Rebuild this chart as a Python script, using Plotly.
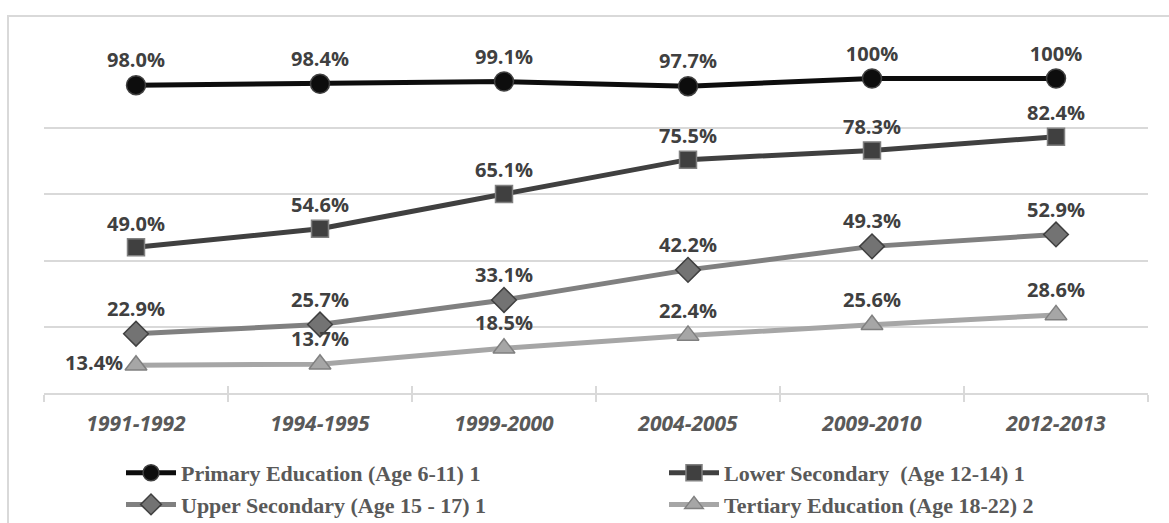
import plotly.graph_objects as go

# School-year periods on the horizontal axis
periods = ["1991-1992", "1994-1995", "1999-2000", "2004-2005", "2009-2010", "2012-2013"]

# Enrolment rates (%) per education level
primary = [98.0, 98.4, 99.1, 97.7, 100, 100]
lower_secondary = [49.0, 54.6, 65.1, 75.5, 78.3, 82.4]
upper_secondary = [22.9, 25.7, 33.1, 42.2, 49.3, 52.9]
tertiary = [13.4, 13.7, 18.5, 22.4, 25.6, 28.6]

series_names = [
    "Primary Education (Age 6-11) 1",
    "Lower Secondary\u00a0 (Age 12-14) 1",
    "Upper Secondary (Age 15 - 17) 1",
    "Tertiary Education (Age 18-22) 2",
]


def pct_label(v):
    return "100%" if v == 100 else f"{v:.1f}%"


W, H = 1169, 523
L, R, T, B = 44, 21, 62, 130
PW, PH = W - L - R, H - T - B

styles = [
    # name, values, line colour, marker symbol, fill, outline, size
    (series_names[0], primary, "#0d0d0d", "circle", "#0d0d0d", "#404040", 19),
    (series_names[1], lower_secondary, "#404040", "square", "#404040", "#808080", 17),
    (series_names[2], upper_secondary, "#808080", "diamond", "#737373", "#404040", 19),
    (series_names[3], tertiary, "#a6a6a6", "triangle-up", "#a6a6a6", "#808080", 19),
]

fig = go.Figure()
for name, vals, lc, sym, fill, edge, size in styles:
    positions = ["top center"] * len(vals)
    if vals is tertiary:
        positions[0] = "middle left"
    fig.add_trace(go.Scatter(
        x=periods, y=vals, name=name, mode="lines+markers+text",
        line=dict(color=lc, width=5),
        marker=dict(symbol=sym, size=size, color=fill, line=dict(color=edge, width=1.5)),
        text=[pct_label(v) for v in vals],
        textposition=positions,
        textfont=dict(family="Open Sans", size=20, color="#404040", weight="bold"),
        cliponaxis=False,
    ))

# invisible carrier so the upper tick marks have an axis to sit on
fig.add_trace(go.Scatter(x=periods, y=[None] * len(periods), xaxis="x2",
                         showlegend=False, hoverinfo="skip"))

axis_grey = "#d9d9d9"
item_w = 50
col_step = 543
fig.update_layout(
    width=W, height=H,
    margin=dict(l=L, r=R, t=T, b=B, autoexpand=False),
    paper_bgcolor="white", plot_bgcolor="white",
    showlegend=True,
    xaxis=dict(
        type="category", categoryorder="array", categoryarray=periods,
        range=[-0.5, 5.5], showgrid=False,
        showline=True, linecolor=axis_grey, linewidth=2,
        ticks="outside", tickson="boundaries", ticklen=7, tickwidth=2, tickcolor=axis_grey,
        ticklabelstandoff=11,
        tickfont=dict(family="Open Sans", size=21, color="#595959", weight="bold", style="italic"),
    ),
    xaxis2=dict(
        type="category", categoryorder="array", categoryarray=periods,
        range=[-0.5, 5.5], overlaying="x", anchor="y", side="bottom",
        showgrid=False, showline=False, showticklabels=False,
        ticks="inside", tickson="boundaries", ticklen=7, tickwidth=2, tickcolor=axis_grey,
    ),
    yaxis=dict(
        range=[5, 105], tick0=5, dtick=20, showticklabels=False,
        showgrid=True, gridcolor=axis_grey, gridwidth=2,
        zeroline=False, showline=False, ticks="",
    ),
    legend=dict(
        orientation="h", x=(121 - L) / PW, xanchor="left",
        y=1 - (452 - T) / PH, yanchor="top",
        entrywidth=col_step - (item_w + 10) - 5, entrywidthmode="pixels",
        itemwidth=item_w, tracegroupgap=0,
        font=dict(family="Liberation Serif", size=22, color="#595959", weight="bold"),
        bgcolor="rgba(0,0,0,0)",
    ),
    shapes=[dict(
        type="rect", xref="paper", yref="paper",
        x0=(8 - L) / PW, x1=1.2, y0=-1.0, y1=1 + (T - 16) / PH,
        line=dict(color=axis_grey, width=2), fillcolor="rgba(0,0,0,0)", layer="below",
    )],
)

fig.write_html("out.html")
